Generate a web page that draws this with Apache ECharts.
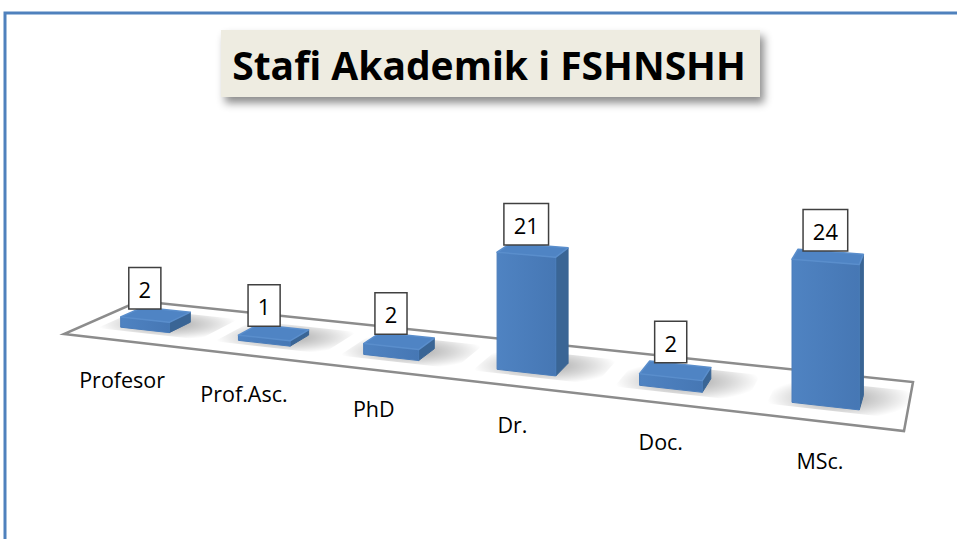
<!DOCTYPE html>
<html>
<head>
<meta charset="utf-8">
<script src="https://cdn.jsdelivr.net/npm/echarts@6/dist/echarts.min.js"></script>
<style>
    html, body { margin: 0; padding: 0; background: #fff; }
    #chart { width: 957px; height: 539px; }
</style>
</head>
<body>
<div id="chart"></div>
<script>

const categories = ['Profesor', 'Prof.Asc.', 'PhD', 'Dr.', 'Doc.', 'MSc.'];
const staffCounts = [2, 1, 2, 21, 2, 24];
const titleText = 'Stafi Akademik i FSHNSHH';

// floor corners on screen: front-left, front-right, back-right, back-left
const FLOOR = [[64, 334], [904, 431], [913, 382], [139, 301]];

const BAR_HALF = 0.035;   // half bar width, in floor units
const V_FRONT = 0.3;      // bar front face depth on floor
const V_BACK = 0.6;       // bar back face depth on floor

// square -> quad perspective mapping of the floor
const makeProjection = (q) => {
    const [[x0, y0], [x1, y1], [x2, y2], [x3, y3]] = q;
    const dx1 = x1 - x2, dx2 = x3 - x2, dx3 = x0 - x1 + x2 - x3;
    const dy1 = y1 - y2, dy2 = y3 - y2, dy3 = y0 - y1 + y2 - y3;
    const det = dx1 * dy2 - dx2 * dy1;
    const g = (dx3 * dy2 - dx2 * dy3) / det;
    const h = (dx1 * dy3 - dx3 * dy1) / det;
    const a = x1 - x0 + g * x1, b = x3 - x0 + h * x3, c = x0;
    const d = y1 - y0 + g * y1, e = y3 - y0 + h * y3, f = y0;
    return (u, v) => {
        const den = g * u + h * v + 1;
        return { x: (a * u + b * v + c) / den, y: (d * u + e * v + f) / den, s: 1 / den };
    };
};

const project = makeProjection(FLOOR);

const chart = echarts.init(document.getElementById('chart'), null, { renderer: 'svg' });

const renderFloor = () => {
    const pts = [[0, 0], [1, 0], [1, 1], [0, 1]].map(([u, v]) => {
        const p = project(u, v);
        return [p.x, p.y];
    });
    return {
        type: 'polygon',
        shape: { points: pts },
        style: { fill: '#fff', stroke: '#8c8c8c', lineWidth: 2.5 },
    };
};

const renderBar = (params, api) => {
    const i = api.value(0);
    const val = api.value(1);
    const cs = params.coordSys;
    const base = api.coord([i, 0]);
    const u = (base[0] - cs.x) / cs.width;
    const unitH = base[1] - api.coord([i, val])[1];

    const pt = (uu, vv, up) => {
        const p = project(uu, vv);
        return [p.x, p.y - (up ? unitH * p.s : 0)];
    };

    const u0 = u - BAR_HALF, u1 = u + BAR_HALF;

    const front = [pt(u0, V_FRONT, 0), pt(u1, V_FRONT, 0), pt(u1, V_FRONT, 1), pt(u0, V_FRONT, 1)];
    const side = [pt(u1, V_FRONT, 0), pt(u1, V_BACK, 0), pt(u1, V_BACK, 1), pt(u1, V_FRONT, 1)];
    const top = [pt(u0, V_FRONT, 1), pt(u1, V_FRONT, 1), pt(u1, V_BACK, 1), pt(u0, V_BACK, 1)];
    const shadow = [pt(u0 - 0.025, V_FRONT - 0.08, 0), pt(u1 + 0.05, V_FRONT - 0.08, 0),
        pt(u1 + 0.05, V_BACK + 0.2, 0), pt(u0 - 0.025, V_BACK + 0.2, 0)];

    const labelX = pt(u, V_FRONT, 1)[0];
    const labelY = Math.min(top[2][1], top[3][1]) + 1;
    const catPos = project(u, 0);

    return {
        type: 'group',
        children: [
            {
                type: 'polygon',
                shape: { points: shadow },
                style: {
                    fill: new echarts.graphic.RadialGradient(0.5, 0.5, 0.5, [
                        { offset: 0, color: 'rgba(0,0,0,0.35)' },
                        { offset: 0.6, color: 'rgba(0,0,0,0.15)' },
                        { offset: 1, color: 'rgba(0,0,0,0)' },
                    ]),
                },
            },
            {
                type: 'polygon',
                shape: { points: side },
                style: { fill: '#3a6595', stroke: '#3a6595', lineWidth: 1, lineJoin: 'round' },
            },
            {
                type: 'polygon',
                shape: { points: front },
                style: {
                    fill: new echarts.graphic.LinearGradient(0, 0, 1, 0, [
                        { offset: 0, color: '#4f83c2' },
                        { offset: 1, color: '#4677b4' },
                    ]),
                    stroke: '#4a7dbb', lineWidth: 1, lineJoin: 'round',
                },
            },
            {
                type: 'polygon',
                shape: { points: top },
                style: { fill: '#4f84c4', stroke: '#5a8ecc', lineWidth: 1.5, lineJoin: 'round' },
            },
            {
                type: 'text',
                style: {
                    text: String(val),
                    x: labelX,
                    y: labelY,
                    align: 'center',
                    verticalAlign: 'bottom',
                    fontFamily: 'Open Sans',
                    fontSize: 22,
                    fill: '#000',
                    backgroundColor: '#fff',
                    borderColor: '#404040',
                    borderWidth: 1.5,
                    padding: [10, 9, 8, 9],
                },
            },
            {
                type: 'text',
                style: {
                    text: categories[i],
                    x: catPos.x,
                    y: catPos.y + 39,
                    align: 'center',
                    verticalAlign: 'middle',
                    fontFamily: 'Open Sans',
                    fontSize: 21.5,
                    fill: '#000',
                },
            },
        ],
    };
};

chart.setOption({
    animation: false,
    grid: { left: 64, width: 840, top: 120, height: 155 },
    xAxis: { type: 'category', data: categories, show: false },
    yAxis: { type: 'value', min: 0, max: 30, show: false },
    graphic: [
        {
            type: 'rect',
            shape: { x: 5, y: 13, width: 1000, height: 600 },
            style: { fill: 'none', stroke: '#4f81bd', lineWidth: 3 },
        },
        {
            type: 'rect',
            shape: { x: 221, y: 30, width: 539, height: 67 },
            style: {
                fill: '#eeece1',
                shadowBlur: 8,
                shadowOffsetX: 4,
                shadowOffsetY: 6,
                shadowColor: 'rgba(0,0,0,0.45)',
            },
        },
        {
            type: 'text',
            style: {
                text: titleText,
                x: 489,
                y: 64,
                align: 'center',
                verticalAlign: 'middle',
                fontFamily: 'Open Sans',
                fontWeight: 'bold',
                fontSize: 39,
                fill: '#000',
            },
        },
    ],
    series: [
        {
            type: 'custom',
            name: 'floor',
            data: [[0, 0]],
            renderItem: renderFloor,
            silent: true,
            z: 1,
        },
        {
            type: 'custom',
            name: 'Stafi',
            data: staffCounts.map((v, i) => [i, v]),
            renderItem: renderBar,
            z: 2,
        },
    ],
});

</script>
</body>
</html>
